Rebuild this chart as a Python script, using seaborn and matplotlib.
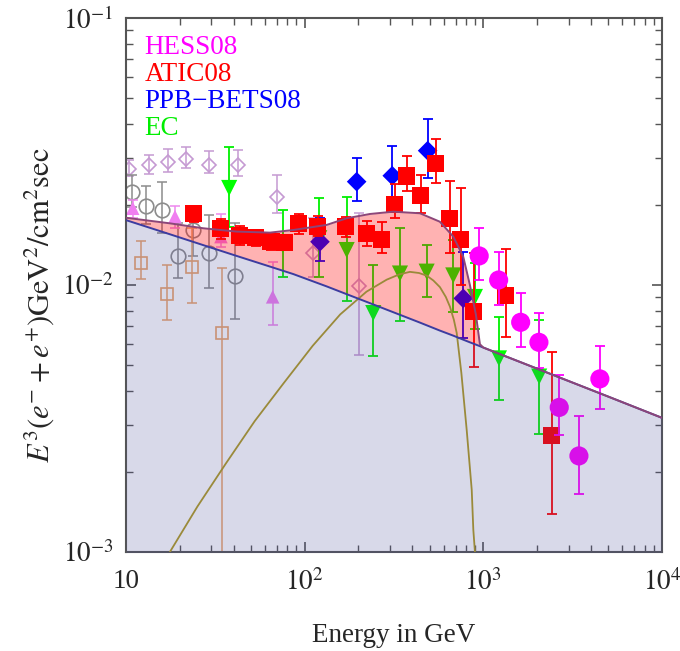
import numpy as np
import matplotlib
matplotlib.use("Agg")
import matplotlib.pyplot as plt
import seaborn as sns
from matplotlib.ticker import FixedLocator, FixedFormatter, LogLocator, NullFormatter

# ---------------- data ----------------
# HESS08 (magenta circles)
hess_E = [948, 1218, 1618, 2047, 2660, 3428, 4490]
hess_y = [0.01285, 0.01044, 0.00725, 0.0061, 0.00348, 0.00229, 0.00445]
hess_lo = [0.01044, 0.00841, 0.00585, 0.0049, 0.00275, 0.00165, 0.00343]
hess_hi = [0.0164, 0.01333, 0.00931, 0.00788, 0.0046, 0.00324, 0.00593]

# ATIC08 (red squares)
atic_E = [24.0, 34.0, 43.4, 53.4, 64.8, 77.6, 92.9, 118.7, 170.2, 223.2,
          270.7, 320.2, 373.7, 447.7, 542.9, 650.4, 749.4, 886, 1338, 2420]
atic_y = [0.01845, 0.01622, 0.01539, 0.0150, 0.01449, 0.01437, 0.01693, 0.01663, 0.01663, 0.01553,
          0.01475, 0.0201, 0.0256, 0.0217, 0.0286, 0.01767, 0.01475, 0.00793, 0.00917, 0.00272]
atic_lo = [0.01722, 0.01486, 0.01413, 0.01399, 0.01352, 0.01352, 0.01552, 0.01526, 0.01513, 0.01399,
           0.01321, 0.01778, 0.02254, 0.01856, 0.02415, 0.01315, 0.0100, 0.00494, 0.0064, 0.00139]
atic_hi = [0.01965, 0.01762, 0.01667, 0.01596, 0.01538, 0.01526, 0.01845, 0.01813, 0.01795, 0.01742,
           0.01726, 0.02382, 0.03048, 0.02582, 0.03524, 0.0246, 0.02314, 0.01315, 0.01368, 0.00561]

# PPB-BETS08 (blue diamonds)
ppb_E = [121.8, 195.4, 309.2, 487.7, 771.9]
ppb_y = [0.01452, 0.02438, 0.02566, 0.03185, 0.00891]
ppb_lo = [0.0123, 0.02065, 0.02082, 0.0251, 0.00632]
ppb_hi = [0.01778, 0.02999, 0.03317, 0.04175, 0.01334]

# EC (green down triangles)
ec_E = [37.8, 75.3, 120.7, 171.8, 242, 341.5, 481.6, 678.6, 897.5, 1223, 2054]
ec_y = [0.02309, 0.01413, 0.01497, 0.01352, 0.00785, 0.01104, 0.01122, 0.01086, 0.00902, 0.00531, 0.00454]
ec_lo = [0.01644, 0.01069, 0.01074, 0.00873, 0.00542, 0.00736, 0.00903, 0.00794, 0.00684, 0.00371, 0.00277]
ec_hi = [0.03296, 0.0191, 0.02113, 0.02143, 0.01189, 0.01635, 0.01413, 0.01474, 0.01205, 0.0076, 0.0074]

# older low-energy data (faded)
od_E = [10.43, 13.5, 17.25, 21.6, 29.3, 42.5, 69.7, 111.7, 200.5]
od_y = [0.0272, 0.02814, 0.02897, 0.02958, 0.02814, 0.02814, 0.02143, 0.01318, 0.00989]
od_lo = [0.0256, 0.02606, 0.02656, 0.02735, 0.0262, 0.0256, 0.01856, 0.01072, 0.00547]
od_hi = [0.02938, 0.03069, 0.03223, 0.03296, 0.03185, 0.03206, 0.02582, 0.01782, 0.01856]

gc_E = [10.76, 12.94, 15.85, 19.47, 23.8, 29.3, 40.9]
gc_y = [0.02236, 0.01977, 0.0191, 0.01288, 0.01607, 0.01315, 0.01081]
gc_lo = [0.01965, 0.01693, 0.01563, 0.01059, 0.01285, 0.00972, 0.00746]
gc_hi = [0.02582, 0.02355, 0.02438, 0.01702, 0.01938, 0.01828, 0.01702]

os_E = [12.08, 17.03, 23.5, 34.3]
os_y = [0.01212, 0.00923, 0.01165, 0.00663]
os_lo = [0.0105, 0.0074, 0.00854, 0.0009]
os_hi = [0.01466, 0.01189, 0.01631, 0.01161]

pt_E = [10.9, 18.8, 34.0, 66.2]
pt_y = [0.01938, 0.01803, 0.01518, 0.00903]
pt_lo = [0.01782, 0.01631, 0.0139, 0.00708]
pt_hi = [0.02082, 0.01982, 0.01845, 0.01223]

# model curves
model_E = [10, 17.6, 27.1, 41.6, 64.0, 86.3, 132.8, 171.8, 232, 313, 442, 571, 679,
           772, 841, 909, 957, 1000, 2000, 5000, 10000]
bg_y = [0.0175, 0.01549, 0.0141, 0.01285, 0.01172, 0.01099, 0.00988, 0.00924, 0.00855, 0.00791,
        0.00723, 0.00675, 0.00646, 0.00624, 0.0061, 0.00598, 0.0059, 0.00583, 0.00486, 0.00382, 0.00318]
total_y = [0.01786, 0.01702, 0.01631, 0.01585, 0.01571, 0.01607, 0.01679, 0.01778, 0.01845, 0.01882,
           0.01856, 0.01726, 0.01518, 0.01276, 0.0100, 0.00773, 0.0060, 0.00583, 0.00486, 0.00382, 0.00318]
sig_E = [10, 17.6, 25.1, 36.3, 52.5, 75.9, 110.9, 158.1, 221.8, 287.7, 338.8, 388.2, 436.5,
         482, 524.8, 571.5, 616.6, 650.1, 683.9, 709.6, 753.4, 807.2, 861, 879, 897.5, 933]
sig_y = [0.00054, 0.00100, 0.00148, 0.00215, 0.00309, 0.00427, 0.00592, 0.00776, 0.00944, 0.01047,
         0.01096, 0.0112, 0.01109, 0.01084, 0.0104, 0.00982, 0.00902, 0.0083, 0.00741, 0.00661,
         0.00468, 0.00286, 0.00171, 0.00121, 0.001, 0.00032]

legend_labels = ["HESS08", "ATIC08", "PPB\u2212BETS08", "EC"]
legend_colors = ["#ff00ff", "#ff0000", "#0000ff", "#00ee00"]
xtick_vals = [10, 100, 1000, 10000]
xtick_labels = ["10", "$10^2$", "$10^3$", "$10^4$"]
ytick_vals = [1e-3, 1e-2, 1e-1]
ytick_labels = ["$10^{-3}$", "$10^{-2}$", "$10^{-1}$"]

# ---------------- figure ----------------
sns.set_theme(style="ticks")
plt.rcParams["font.family"] = ["Liberation Serif", "DejaVu Serif"]
plt.rcParams["mathtext.fontset"] = "stix"

fig = plt.figure(figsize=(6.8, 6.51), dpi=100)
ax = fig.add_axes([126 / 680, 1 - 552 / 651, 536 / 680, 534 / 651])
ax.set_xscale("log")
ax.set_yscale("log")


def bars(E, y, lo, hi, color, lw=1.3, z=2, alpha=1.0):
    y = np.asarray(y, float)
    ax.errorbar(E, y, yerr=[y - np.asarray(lo), np.asarray(hi) - y], fmt="none",
                ecolor=color, elinewidth=lw, capsize=3.6, capthick=lw, zorder=z, alpha=alpha)


def filled(E, y, marker, s, color, z=2):
    sns.scatterplot(x=E, y=y, marker=marker, s=s, color=color, edgecolor="none",
                    linewidth=0, ax=ax, zorder=z, legend=False)


def opened(E, y, marker, ms, color, z=1, alpha=1.0):
    ax.plot(E, y, linestyle="none", marker=marker, ms=ms, mfc="none", mec=color,
            mew=1.2, zorder=z, alpha=alpha)


# faded older data
bars(od_E, od_y, od_lo, od_hi, "#c59ad2", lw=1.1, z=1)
opened(od_E, od_y, "D", 7.0, "#c59ad2")
bars(gc_E, gc_y, gc_lo, gc_hi, "#8c8c8c", lw=1.1, z=1)
opened(gc_E, gc_y, "o", 10.5, "#8c8c8c")
bars(os_E, os_y, os_lo, os_hi, "#eba56c", lw=1.1, z=1)
opened(os_E, os_y, "s", 8.5, "#eba56c")
bars(pt_E, pt_y, pt_lo, pt_hi, "#ee88ee", lw=1.1, z=1)
filled(pt_E, pt_y, "^", 95, "#f07ef0", z=1)

# main data
bars(ec_E, ec_y, ec_lo, ec_hi, "#00f000", z=2)
filled(ec_E, ec_y, "v", 135, "#00ff00", z=2)
bars(ppb_E, ppb_y, ppb_lo, ppb_hi, "#0000ff", z=2)
filled(ppb_E, ppb_y, "D", 100, "#0000ff", z=2)
bars(atic_E, atic_y, atic_lo, atic_hi, "#ff0000", z=2)
filled(atic_E, atic_y, "s", 150, "#ff0000", z=2)
bars(hess_E, hess_y, hess_lo, hess_hi, "#ff00ff", z=2)
filled(hess_E, hess_y, "o", 190, "#ff00ff", z=2)

# model fills (semi transparent, drawn over points)
ax.fill_between(model_E, 1e-4, bg_y, color=(75 / 255, 76 / 255, 155 / 255), alpha=0.21,
                lw=0, zorder=5)
ax.fill_between(model_E, bg_y, total_y, color="#ff0000", alpha=0.3, lw=0, zorder=5)

# model lines
sns.lineplot(x=sig_E, y=sig_y, color="#9a8a3a", lw=1.3, ax=ax, zorder=6,
             estimator=None, sort=False)
sns.lineplot(x=model_E, y=bg_y, color="#3c3ca0", lw=1.4, ax=ax, zorder=6,
             estimator=None, sort=False)
sns.lineplot(x=model_E, y=total_y, color="#8c4679", lw=1.4, ax=ax, zorder=7,
             estimator=None, sort=False)

ax.set_xlim(10, 1e4)
ax.set_ylim(1e-3, 1e-1)

ax.xaxis.set_major_locator(FixedLocator(xtick_vals))
ax.xaxis.set_major_formatter(FixedFormatter(xtick_labels))
ax.yaxis.set_major_locator(FixedLocator(ytick_vals))
ax.yaxis.set_major_formatter(FixedFormatter(ytick_labels))
ax.xaxis.set_minor_locator(LogLocator(base=10, subs=np.arange(2, 10)))
ax.yaxis.set_minor_locator(LogLocator(base=10, subs=np.arange(2, 10)))
ax.xaxis.set_minor_formatter(NullFormatter())
ax.yaxis.set_minor_formatter(NullFormatter())

ax.tick_params(which="both", direction="in", top=True, right=True, color="#555555")
ax.tick_params(which="major", length=7, width=1.2, labelsize=19.5, pad=9)
ax.tick_params(axis="x", which="major", pad=12)
ax.tick_params(which="minor", length=5, width=1.0)
for sp in ax.spines.values():
    sp.set_color("#555555")
    sp.set_linewidth(1.5)

ax.set_xlabel("Energy in GeV", fontsize=19.5, labelpad=20)
ax.set_ylabel(r"$E^3(e^{-}+e^{+})\mathrm{GeV}^2/\mathrm{cm}^2\mathrm{sec}$", fontsize=22)
ax.yaxis.set_label_coords(-0.131, 0.462)

for i, (lab, col) in enumerate(zip(legend_labels, legend_colors)):
    yb = [0.9326, 0.8826, 0.8309, 0.7809][i]
    ax.text(0.035, yb, lab, color=col, fontsize=19.5, transform=ax.transAxes,
            va="baseline", ha="left", zorder=10)

fig.savefig("out.png", dpi=100)
